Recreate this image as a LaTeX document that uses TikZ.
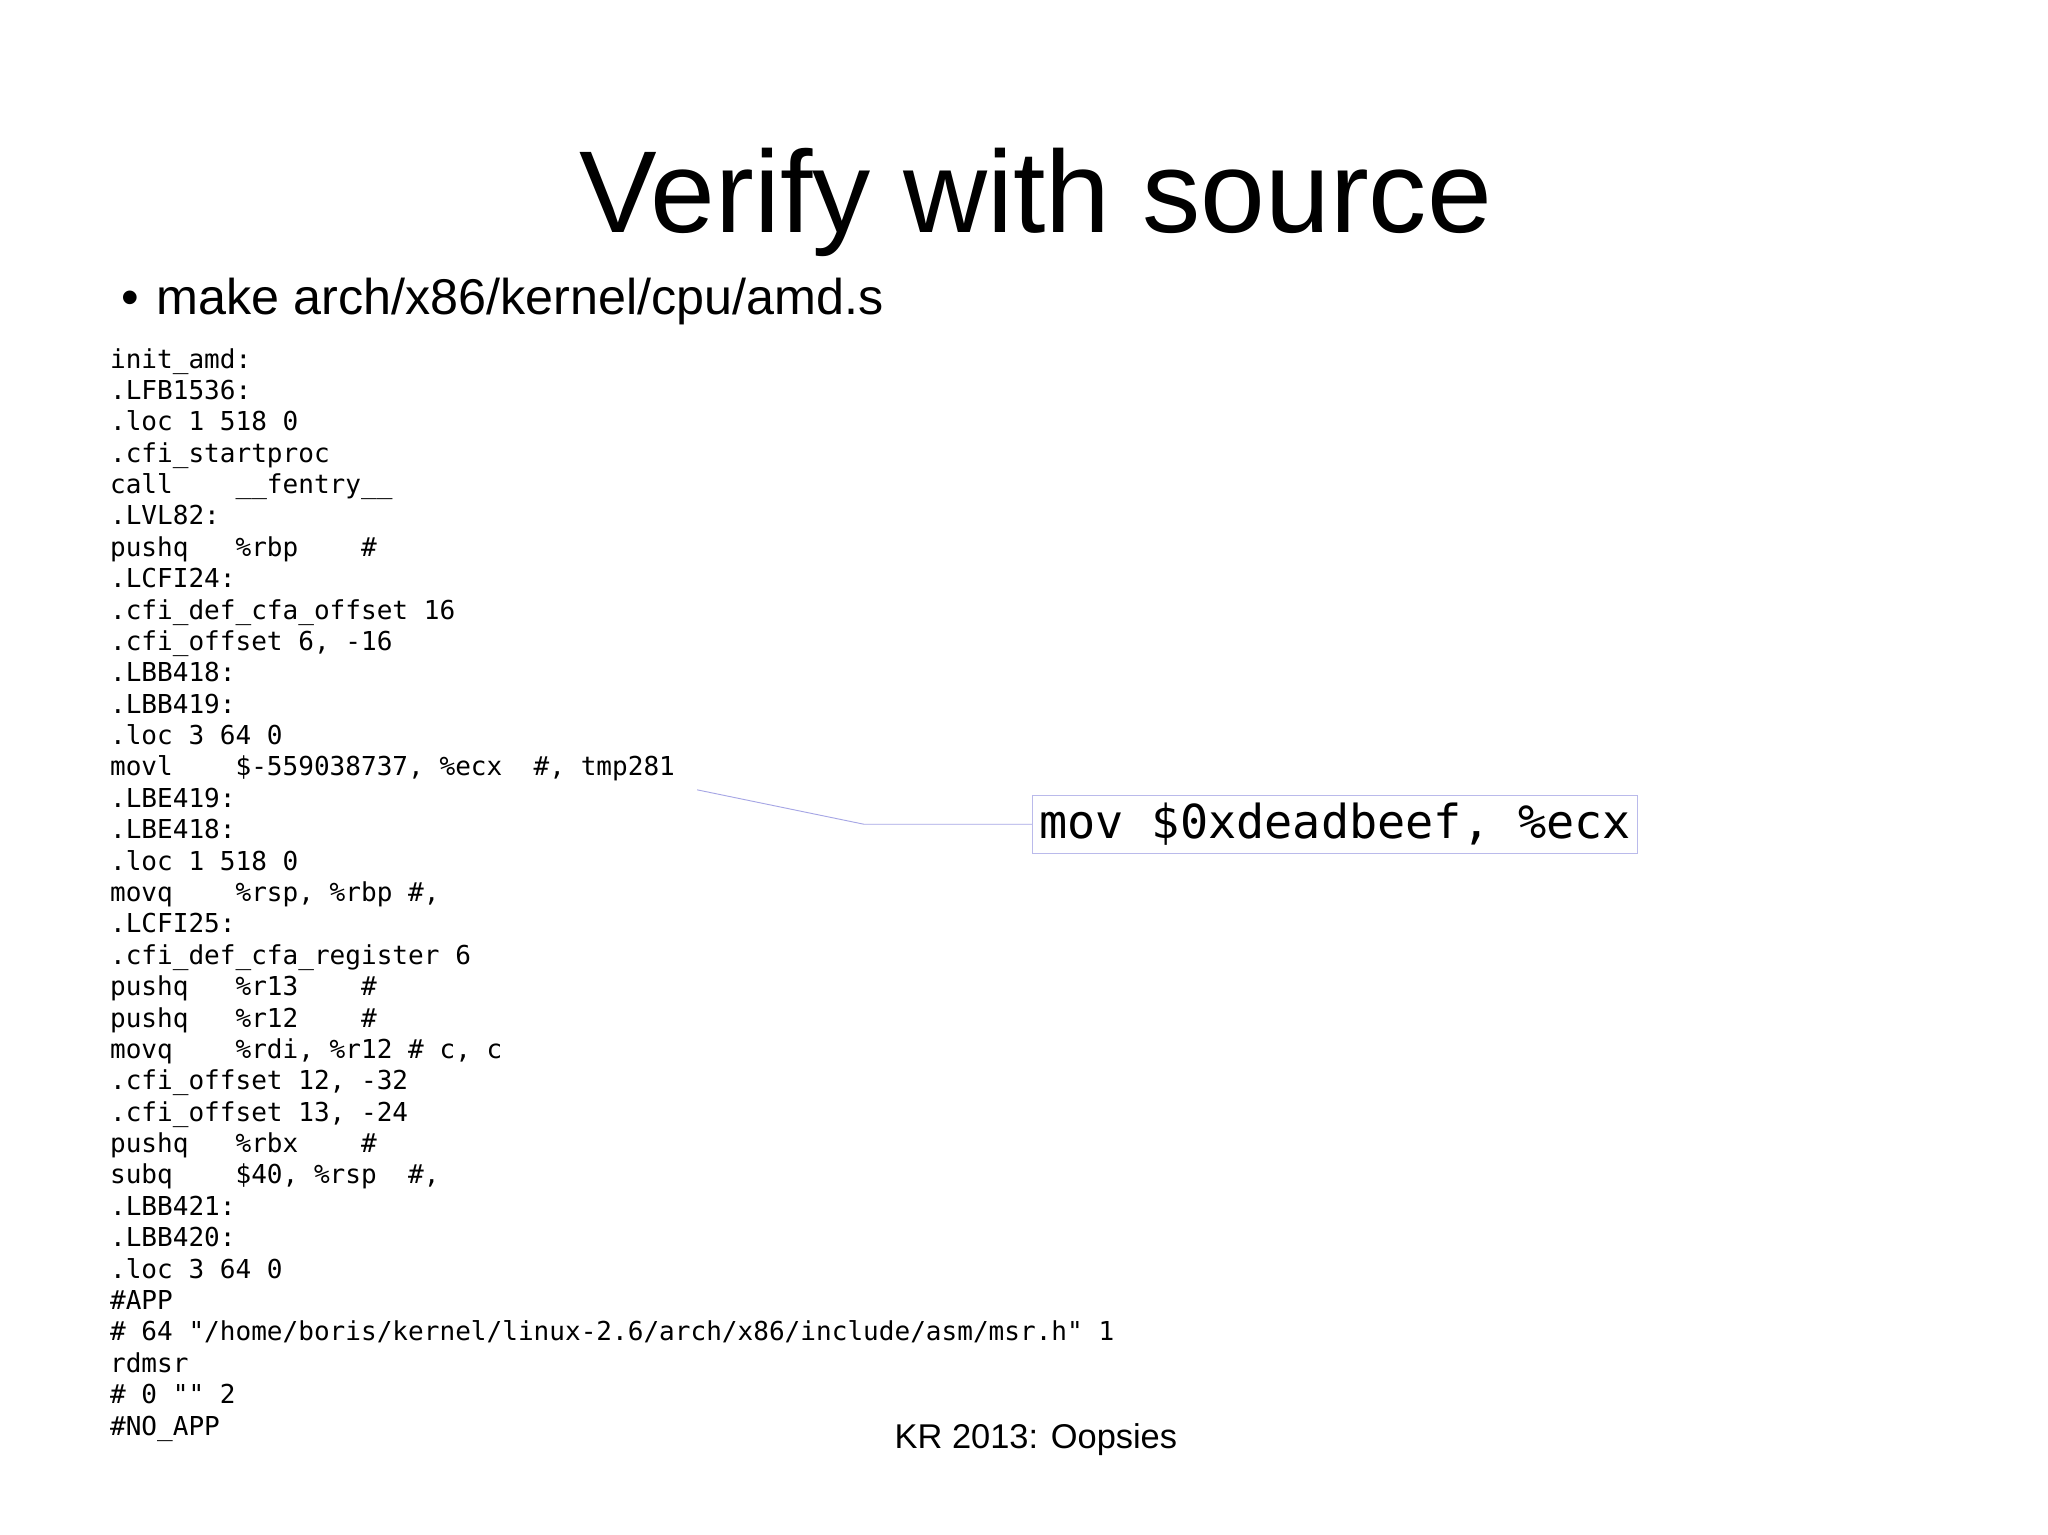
\documentclass[tikz,border=0pt]{standalone}
\usepackage{fontspec}
\setmainfont{Liberation Sans}
\newfontfamily\codefont{DejaVu Sans Mono}
\begin{document}
\begin{tikzpicture}[x=1pt,y=-1pt,
  code/.style={font=\codefont\fontsize{19.7}{23.72}\selectfont, align=left, inner sep=0pt, anchor=north west},
  callout/.style={draw=gray!45!blue!35, line width=0.8pt, inner xsep=5pt, inner ysep=6pt, font=\codefont\fontsize{35.4}{40}\selectfont},
  lead/.style={draw=gray!45!blue!45, line width=0.7pt}]
\useasboundingbox[fill=white] (0,0) rectangle (1548,1160);
\node[font=\fontsize{88}{100}\selectfont, anchor=base] (title) at (783,176) {Verify with source};
\node[font=\fontsize{38}{44}\selectfont, anchor=base west, inner sep=0pt] (bullet) at (92,238) {\textbullet\hspace{13pt}make arch/x86/kernel/cpu/amd.s};
\node[code] (code) at (83,263) {init\_amd:\\
.LFB1536:\\
.loc 1 518 0\\
.cfi\_startproc\\
call\ \ \ \ \_\_fentry\_\_\\
.LVL82:\\
pushq\ \ \ \%rbp\ \ \ \ \#\\
.LCFI24:\\
.cfi\_def\_cfa\_offset 16\\
.cfi\_offset 6, -16\\
.LBB418:\\
.LBB419:\\
.loc 3 64 0\\
movl\ \ \ \ \$-559038737, \%ecx\ \ \#, tmp281\\
.LBE419:\\
.LBE418:\\
.loc 1 518 0\\
movq\ \ \ \ \%rsp, \%rbp \#,\\
.LCFI25:\\
.cfi\_def\_cfa\_register 6\\
pushq\ \ \ \%r13\ \ \ \ \#\\
pushq\ \ \ \%r12\ \ \ \ \#\\
movq\ \ \ \ \%rdi, \%r12 \# c, c\\
.cfi\_offset 12, -32\\
.cfi\_offset 13, -24\\
pushq\ \ \ \%rbx\ \ \ \ \#\\
subq\ \ \ \ \$40, \%rsp\ \ \#,\\
.LBB421:\\
.LBB420:\\
.loc 3 64 0\\
\#APP\\
\# 64 "/home/boris/kernel/linux-2.6/arch/x86/include/asm/msr.h" 1\\
rdmsr\\
\# 0 "" 2\\
\#NO\_APP};
\node[callout, anchor=west] (box) at (780,623) {mov \$0xdeadbeef, \%ecx};
\coordinate (src) at (527,597);
\coordinate (bend) at (653,623);
\draw[lead] (src) -- (bend) -- (box.west);
\node[font=\fontsize{26}{30}\selectfont, anchor=base] (foot) at (783,1095) {KR 2013: Oopsies};
\end{tikzpicture}
\end{document}
